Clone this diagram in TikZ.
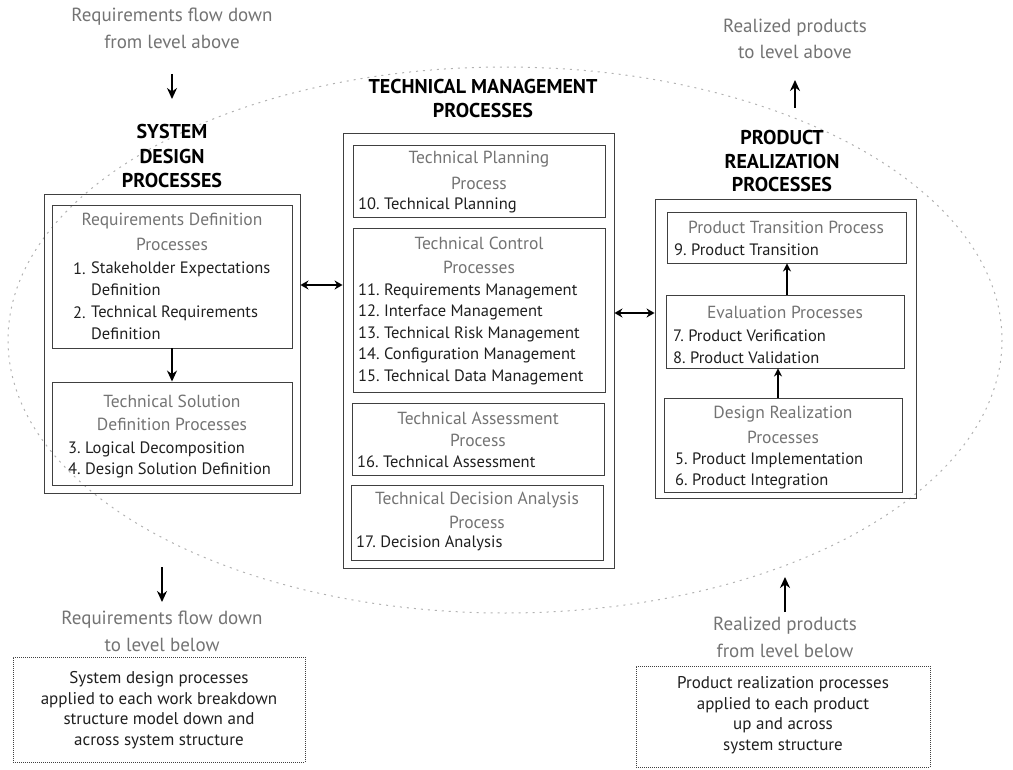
\documentclass[tikz,border=0pt]{standalone}
\usepackage{fontspec}
\setmainfont{PT Sans}
\usetikzlibrary{arrows.meta,fit}
\definecolor{soft}{gray}{0.45}
\definecolor{item}{gray}{0.12}
\definecolor{rim}{gray}{0.25}
\begin{document}
\begin{tikzpicture}[x=1pt,y=-1pt,
  frame/.style={draw=rim,line width=0.9pt,inner sep=0pt,fit={#1}},
  note/.style={draw=rim,line width=1pt,densely dotted,inner sep=0pt,fit={#1}},
  head/.style={font=\fontsize{20}{23}\selectfont\bfseries,text=black,inner sep=0pt},
  sub/.style={font=\fontsize{17.5}{20}\selectfont,text=soft,inner sep=0pt},
  itm/.style={font=\fontsize{16.5}{19}\selectfont,text=item,inner sep=0pt,anchor=west},
  lbl/.style={font=\fontsize{19}{21}\selectfont,text=soft,inner sep=0pt},
  txt/.style={font=\fontsize{17}{20.5}\selectfont,text=item,align=center,inner sep=0pt},
  flow/.style={-{Stealth[length=11pt,width=10pt]},line width=1.8pt,black},
  link/.style={{Stealth[length=8pt,width=9pt]}-{Stealth[length=8pt,width=9pt]},line width=1.6pt,black},
  up/.style={-{Stealth[length=8pt,width=8pt]},line width=1.5pt,black}]
\useasboundingbox (0,0) rectangle (1013,770);

% surrounding cycle
\draw[gray!60,line width=1pt,dash pattern=on 2pt off 5pt] (505,340) ellipse [x radius=497,y radius=273];

% ---------- system design ----------
\node[lbl] (reqin1) at (172,17) {Requirements flow down};
\node[lbl] (reqin2) at (172,42) {from level above};
\coordinate (reqinA) at (172,74);
\coordinate (reqinB) at (172,99);
\draw[flow] (reqinA) -- (reqinB);
\node[head] (sdh1) at (172,132) {SYSTEM};
\node[head] (sdh2) at (172,157) {DESIGN};
\node[head] (sdh3) at (172,181) {PROCESSES};
\node[frame={(44,194)(300,493)}] (sd) {};
\node[frame={(52,205)(292,348)}] (rd) {};
\node[sub] (rdt1) at (172,221) {Requirements Definition};
\node[sub] (rdt2) at (172,244) {Processes};
\node[itm] (i1) at (73,269) {1.};
\node[itm] (i1a) at (91,269) {Stakeholder Expectations};
\node[itm] (i1b) at (91,290) {Definition};
\node[itm] (i2) at (73,313) {2.};
\node[itm] (i2a) at (91,313) {Technical Requirements};
\node[itm] (i2b) at (91,334) {Definition};
\node[frame={(52,382)(292,485)}] (ts) {};
\node[sub] (tst1) at (172,401) {Technical Solution};
\node[sub] (tst2) at (172,424) {Definition Processes};
\node[itm] (i3) at (68,449) {3.\ Logical Decomposition};
\node[itm] (i4) at (68,470) {4.\ Design Solution Definition};
\draw[flow] (rd.south) -- (ts.north);

% ---------- technical management ----------
\node[head] (tmh1) at (483,87) {TECHNICAL MANAGEMENT};
\node[head] (tmh2) at (483,111) {PROCESSES};
\node[frame={(343,133)(614,568)}] (tm) {};
\node[frame={(353,145)(605,217)}] (tp) {};
\node[sub] (tpt1) at (479,159) {Technical Planning};
\node[sub] (tpt2) at (479,183) {Process};
\node[itm] (i10) at (358,205) {10.\ Technical Planning};
\node[frame={(353,228)(605,392)}] (tc) {};
\node[sub] (tct1) at (479,243) {Technical Control};
\node[sub] (tct2) at (479,267) {Processes};
\node[itm] (i11) at (358,291) {11.\ Requirements Management};
\node[itm] (i12) at (358,312) {12.\ Interface Management};
\node[itm] (i13) at (358,334) {13.\ Technical Risk Management};
\node[itm] (i14) at (358,355) {14.\ Configuration Management};
\node[itm] (i15) at (358,377) {15.\ Technical Data Management};
\node[frame={(352,403)(604,475)}] (ta) {};
\node[sub] (tat1) at (478,418) {Technical Assessment};
\node[sub] (tat2) at (478,440) {Process};
\node[itm] (i16) at (357,462) {16.\ Technical Assessment};
\node[frame={(351,485)(603,560)}] (td) {};
\node[sub] (tdt1) at (477,500) {Technical Decision Analysis};
\node[sub] (tdt2) at (477,522) {Process};
\node[itm] (i17) at (356,543) {17.\ Decision Analysis};

% ---------- product realization ----------
\node[lbl] (rpo1) at (795,28) {Realized products};
\node[lbl] (rpo2) at (795,52) {to level above};
\coordinate (rpoA) at (795,108);
\coordinate (rpoB) at (795,80);
\draw[flow] (rpoA) -- (rpoB);
\node[head] (prh1) at (782,138) {PRODUCT};
\node[head] (prh2) at (782,162) {REALIZATION};
\node[head] (prh3) at (782,185) {PROCESSES};
\node[frame={(655,199)(916,498)}] (pr) {};
\node[frame={(667,212)(906,263)}] (pt) {};
\node[sub] (ptt) at (786,227) {Product Transition Process};
\node[itm] (i9) at (674,250) {9.\ Product Transition};
\node[frame={(666,295)(904,368)}] (ev) {};
\node[sub] (evt) at (785,312) {Evaluation Processes};
\node[itm] (i7) at (673,336) {7.\ Product Verification};
\node[itm] (i8) at (673,358) {8.\ Product Validation};
\node[frame={(664,398)(902,492)}] (dr) {};
\node[sub] (drt1) at (783,414) {Design Realization};
\node[sub] (drt2) at (783,437) {Processes};
\node[itm] (i5) at (675,460) {5.\ Product Implementation};
\node[itm] (i6) at (675,481) {6.\ Product Integration};
\draw[up] (ev.north -| 787,0) -- (pt.south -| 787,0);
\draw[up] (dr.north -| 778,0) -- (ev.south -| 778,0);

% links between the three groups
\draw[link] (sd.east |- 0,285) -- (tm.west |- 0,285);
\draw[link] (tm.east |- 0,313) -- (pr.west |- 0,313);

% ---------- lower level ----------
\coordinate (reqoutA) at (162,567);
\coordinate (reqoutB) at (162,602);
\draw[flow] (reqoutA) -- (reqoutB);
\node[lbl] (reqout1) at (162,620) {Requirements flow down};
\node[lbl] (reqout2) at (162,645) {to level below};
\node[note={(13,657)(305,762)}] (sdn) {};
\node[txt] (sdnt) at (159,710)
  {System design processes\\applied to each work breakdown\\structure model down and\\across system structure};

\coordinate (rpiA) at (785,612);
\coordinate (rpiB) at (785,577);
\draw[flow] (rpiA) -- (rpiB);
\node[lbl] (rpi1) at (785,626) {Realized products};
\node[lbl] (rpi2) at (785,651) {from level below};
\node[note={(636,666)(930,767)}] (prn) {};
\node[txt] (prnt) at (783,715)
  {Product realization processes\\applied to each product\\up and across\\system structure};
\end{tikzpicture}
\end{document}
